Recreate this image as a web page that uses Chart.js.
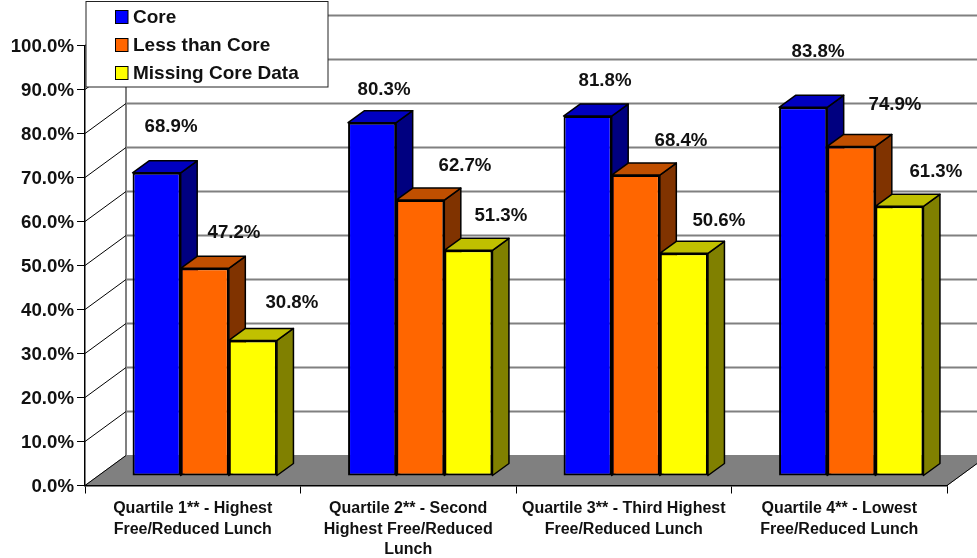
<!DOCTYPE html>
<html>
<head>
<meta charset="utf-8">
<title>Core by free/reduced lunch quartile</title>
<script src="https://cdn.jsdelivr.net/npm/chart.js@4"></script>
<style>
  body { margin: 0; background: #fff; }
</style>
</head>
<body>
<canvas id="barChart" width="977" height="558"></canvas>
<script>
// chart data
const categories = [
    ['Quartile 1** - Highest', 'Free/Reduced Lunch'],
    ['Quartile 2** - Second', 'Highest Free/Reduced', 'Lunch'],
    ['Quartile 3** - Third Highest', 'Free/Reduced Lunch'],
    ['Quartile 4** - Lowest', 'Free/Reduced Lunch']
];
const coreValues = [68.9, 80.3, 81.8, 83.8];
const lessThanCoreValues = [47.2, 62.7, 68.4, 74.9];
const missingCoreValues = [30.8, 51.3, 50.6, 61.3];

// the value labels were placed by hand in the original, offsets from the bar top
const labelOffsets = [
    [[14.4, -45.8], [11.9, -32.7], [17.4, -35.1], [14.9, -55.3]],
    [[29.2, -35.3], [44.7, -34.1], [45.2, -34], [43.7, -41.4]],
    [[39, -37.5], [32.5, -34.3], [35, -32.4], [36.5, -34.3]]
];

const FONT = '"Liberation Sans", Arial, sans-serif';
const TEXT = '#111';

// depth of the back wall and of the bars
const WALL_DX = 41, WALL_DY = 30;
const BAR_DX = 16.5, BAR_DY = 12;
const BAR_SHIFT_X = 12, BAR_SHIFT_Y = -9.5;

const faces = [
    { front: '#0000ff', top: '#0000c0', side: '#000080' },
    { front: '#ff6600', top: '#c04f00', side: '#803300' },
    { front: '#ffff00', top: '#c0c000', side: '#808000' }
];

function poly(ctx, pts, fill) {
    ctx.beginPath();
    pts.forEach((p, i) => i ? ctx.lineTo(p[0], p[1]) : ctx.moveTo(p[0], p[1]));
    ctx.closePath();
    if (fill) {
        ctx.fillStyle = fill;
        ctx.fill();
    }
    ctx.stroke();
}

// floor, back wall and the grid that sits on it
const wallPlugin = {
    id: 'wall',
    beforeDraw(chart) {
        const ctx = chart.ctx, a = chart.chartArea, y = chart.scales.y;
        ctx.save();
        ctx.strokeStyle = '#808080';
        ctx.lineWidth = 1;
        poly(ctx, [
            [a.left, a.bottom],
            [a.left + WALL_DX, a.bottom - WALL_DY],
            [a.right + WALL_DX, a.bottom - WALL_DY],
            [a.right, a.bottom]
        ], '#808080');

        ctx.lineWidth = 2;
        ctx.beginPath();
        ctx.moveTo(a.left + WALL_DX, a.bottom - WALL_DY);
        ctx.lineTo(a.left + WALL_DX, a.top - WALL_DY);
        y.ticks.forEach(t => {
            if (t.value === 0) return;
            const py = y.getPixelForValue(t.value) - WALL_DY;
            ctx.moveTo(a.left + WALL_DX, py);
            ctx.lineTo(a.right + WALL_DX, py);
        });
        ctx.stroke();

        ctx.strokeStyle = '#000';
        ctx.lineWidth = 1;
        ctx.beginPath();
        y.ticks.forEach(t => {
            const py = y.getPixelForValue(t.value);
            ctx.moveTo(a.left, py);
            ctx.lineTo(a.left + WALL_DX, py - WALL_DY);
        });
        ctx.stroke();

        // bottom right edge of the floor
        ctx.beginPath();
        ctx.moveTo(a.right, a.bottom);
        ctx.lineTo(a.right + WALL_DX, a.bottom - WALL_DY);
        ctx.stroke();
        ctx.restore();
    }
};

// side and top faces go under the bars, fronts are the real chart.js bars
const barDepthPlugin = {
    id: 'barDepth',
    beforeDatasetsDraw(chart) {
        const ctx = chart.ctx;
        ctx.save();
        ctx.translate(BAR_SHIFT_X, BAR_SHIFT_Y);
        ctx.strokeStyle = '#000';
        ctx.lineWidth = 1.5;
        ctx.lineJoin = 'round';
        chart.data.datasets.forEach((ds, i) => {
            chart.getDatasetMeta(i).data.forEach(bar => {
                const l = bar.x - bar.width / 2, r = bar.x + bar.width / 2;
                poly(ctx, [[r, bar.y], [r + BAR_DX, bar.y - BAR_DY], [r + BAR_DX, bar.base - BAR_DY], [r, bar.base]], faces[i].side);
                poly(ctx, [[l, bar.y], [l + BAR_DX, bar.y - BAR_DY], [r + BAR_DX, bar.y - BAR_DY], [r, bar.y]], faces[i].top);
            });
        });
        ctx.restore();
        ctx.save();
        ctx.translate(BAR_SHIFT_X, BAR_SHIFT_Y);
    },
    afterDatasetsDraw(chart) {
        const ctx = chart.ctx;
        ctx.restore();
        ctx.save();
        ctx.translate(BAR_SHIFT_X, BAR_SHIFT_Y);
        ctx.font = 'bold 18.67px ' + FONT;
        ctx.fillStyle = TEXT;
        ctx.textAlign = 'center';
        ctx.textBaseline = 'middle';
        chart.data.datasets.forEach((ds, i) => {
            chart.getDatasetMeta(i).data.forEach((bar, j) => {
                const off = labelOffsets[i][j];
                ctx.fillText(ds.data[j].toFixed(1) + '%', bar.x + off[0], bar.y + off[1]);
            });
        });
        ctx.restore();
    }
};

// boxed legend sitting over the top left of the plot
const legendBoxPlugin = {
    id: 'legendBox',
    afterDraw(chart) {
        const ctx = chart.ctx;
        ctx.save();
        ctx.fillStyle = '#fff';
        ctx.strokeStyle = '#222';
        ctx.lineWidth = 1;
        ctx.fillRect(86, 1.5, 242, 85.5);
        ctx.strokeRect(86, 1.5, 242, 85.5);
        ctx.font = 'bold 19px ' + FONT;
        ctx.textBaseline = 'middle';
        chart.data.datasets.forEach((ds, i) => {
            const rowY = 17 + i * 28;
            ctx.fillStyle = ds.backgroundColor;
            ctx.strokeStyle = '#000';
            ctx.fillRect(115.5, rowY - 6.5, 12.5, 13);
            ctx.strokeRect(115.5, rowY - 6.5, 12.5, 13);
            ctx.fillStyle = TEXT;
            ctx.fillText(ds.label, 133, rowY + 1);
        });
        ctx.restore();
    }
};

const ctx = document.getElementById('barChart').getContext('2d');

const barChart = new Chart(ctx, {
    type: 'bar',
    data: {
        labels: categories,
        datasets: [
            { label: 'Core', data: coreValues, backgroundColor: faces[0].front },
            { label: 'Less than Core', data: lessThanCoreValues, backgroundColor: faces[1].front },
            { label: 'Missing Core Data', data: missingCoreValues, backgroundColor: faces[2].front }
        ].map(ds => Object.assign(ds, { borderColor: '#000', borderWidth: 2, borderSkipped: false, clip: false }))
    },
    options: {
        responsive: false,
        devicePixelRatio: 1,
        animation: false,
        layout: { padding: { top: 45.5, right: 30, left: 0, bottom: 0 } },
        datasets: { bar: { categoryPercentage: 0.67, barPercentage: 1 } },
        plugins: {
            legend: { display: false },
            tooltip: { enabled: false }
        },
        scales: {
            x: {
                afterFit(scale) { scale.height = 72.5; },
                border: { color: '#000', width: 1.5 },
                grid: { offset: true, drawOnChartArea: false, color: '#000', tickLength: 8, lineWidth: 1 },
                ticks: {
                    color: TEXT,
                    maxRotation: 0,
                    autoSkip: false,
                    padding: 5,
                    font: { family: FONT, size: 16, weight: 'bold', lineHeight: 1.28 }
                }
            },
            y: {
                min: 0,
                max: 100,
                afterFit(scale) { scale.width = 85; },
                border: { color: '#000', width: 1.5 },
                grid: { drawOnChartArea: false, color: '#000', tickLength: 8, lineWidth: 1 },
                ticks: {
                    stepSize: 10,
                    color: TEXT,
                    padding: 3,
                    labelOffset: 1,
                    callback: v => v.toFixed(1) + '%',
                    font: { family: FONT, size: 18.67, weight: 'bold' }
                }
            }
        }
    },
    plugins: [wallPlugin, barDepthPlugin, legendBoxPlugin]
});
</script>
</body>
</html>
